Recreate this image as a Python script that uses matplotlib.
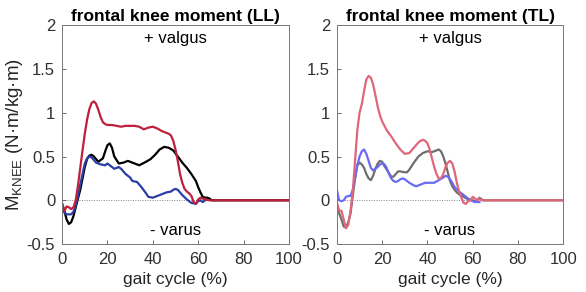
import matplotlib.pyplot as plt
import numpy as np

plt.rcParams["font.family"] = ["Liberation Sans", "DejaVu Sans"]
plt.rcParams["mathtext.default"] = "regular"

# gait cycle (%) / frontal knee moment readings, LL panel
ll_black_x = [0, 1, 2, 3, 4, 5, 6, 7, 8, 9, 10, 11, 12, 13, 14, 16, 18, 19, 20, 21, 22,
              23, 25, 27, 29, 31, 34, 37, 39, 41, 43, 45, 47, 49, 51, 53, 55, 57, 59,
              60, 61, 62, 63, 64, 65, 66, 100]
ll_black_y = [-0.05, -0.12, -0.22, -0.27, -0.25, -0.18, -0.08, 0.02, 0.12, 0.25, 0.38, 0.47,
              0.51, 0.52, 0.5, 0.44, 0.48, 0.56, 0.63, 0.65, 0.6, 0.5, 0.42, 0.43, 0.45,
              0.43, 0.4, 0.44, 0.47, 0.52, 0.58, 0.61, 0.6, 0.57, 0.5, 0.43, 0.37, 0.3,
              0.22, 0.15, 0.09, 0.04, 0.03, 0.03, 0.02, 0.0, 0.0]
ll_red_x = [0, 1, 2, 3, 4, 5, 6, 7, 8, 9, 10, 11, 12, 13, 14, 15, 16, 17, 18, 19, 20, 22,
            24, 26, 28, 30, 32, 34, 36, 38, 40, 42, 44, 46, 47, 48, 49, 50, 51, 52, 53, 54,
            55, 56, 57, 58, 59, 60, 61, 62, 63, 65, 100]
ll_red_y = [-0.03, -0.12, -0.07, -0.08, -0.1, -0.08, 0.0, 0.17, 0.37, 0.57, 0.76, 0.92, 1.04,
            1.11, 1.13, 1.1, 1.03, 0.95, 0.89, 0.87, 0.86, 0.86, 0.85, 0.84, 0.85, 0.85,
            0.85, 0.84, 0.81, 0.83, 0.84, 0.82, 0.79, 0.77, 0.76, 0.74, 0.68, 0.58, 0.45,
            0.3, 0.2, 0.13, 0.1, 0.08, 0.05, -0.02, -0.04, 0.01, 0.03, 0.02, 0.01, 0.0, 0.0]
ll_blue_x = [0, 1, 2, 3, 4, 5, 6, 7, 8, 9, 10, 11, 12, 13, 14, 15, 17, 19, 20, 21, 23, 25,
             26, 28, 30, 31, 33, 35, 37, 38, 40, 42, 44, 46, 48, 49, 50, 51, 53, 55, 57,
             59, 60, 61, 62, 63]
ll_blue_y = [-0.1, -0.14, -0.16, -0.16, -0.16, -0.13, -0.06, 0.05, 0.18, 0.3, 0.42, 0.48,
             0.5, 0.49, 0.46, 0.43, 0.41, 0.4, 0.42, 0.4, 0.36, 0.38, 0.36, 0.3, 0.26, 0.22,
             0.21, 0.15, 0.08, 0.04, 0.03, 0.05, 0.07, 0.09, 0.1, 0.12, 0.13, 0.12, 0.06,
             0.01, -0.03, -0.04, -0.01, 0.0, -0.02, 0.0]

# TL panel
tl_gray_x = [0, 1, 2, 3, 4, 5, 6, 7, 8, 9, 10, 11, 12, 13, 14, 15, 16, 17, 18, 19, 20, 21,
             22, 23, 24, 25, 26, 27, 28, 30, 31, 32, 33, 34, 36, 38, 39, 40, 42, 44, 45,
             46, 47, 48, 49, 50, 51, 52, 53, 54, 56, 58, 60, 61, 62, 63, 64, 65, 100]
tl_gray_y = [-0.05, -0.15, -0.22, -0.3, -0.31, -0.25, -0.15, 0.05, 0.25, 0.4, 0.43, 0.41,
             0.37, 0.3, 0.25, 0.23, 0.28, 0.36, 0.42, 0.45, 0.44, 0.39, 0.35, 0.31, 0.27,
             0.27, 0.3, 0.33, 0.33, 0.32, 0.32, 0.35, 0.39, 0.43, 0.5, 0.54, 0.55, 0.56,
             0.55, 0.57, 0.58, 0.56, 0.5, 0.42, 0.32, 0.22, 0.16, 0.12, 0.09, 0.07, 0.04,
             0.01, 0.0, -0.01, 0.0, 0.03, 0.01, 0.0, 0.0]
tl_red_x = [0, 1, 2, 3, 4, 5, 6, 7, 8, 9, 10, 11, 12, 13, 14, 15, 16, 17, 18, 19, 20, 22,
            24, 26, 28, 30, 32, 34, 36, 37, 38, 39, 40, 41, 42, 43, 44, 45, 46, 47, 48,
            49, 50, 51, 52, 53, 54, 55, 56, 57, 58, 59, 60, 61, 62, 63, 64, 100]
tl_red_y = [-0.03, -0.12, -0.12, -0.22, -0.32, -0.28, -0.12, 0.1, 0.45, 0.8, 1.0, 1.1,
            1.25, 1.38, 1.42, 1.4, 1.32, 1.2, 1.07, 0.97, 0.9, 0.8, 0.73, 0.65, 0.58, 0.53,
            0.54, 0.6, 0.66, 0.68, 0.69, 0.68, 0.65, 0.58, 0.48, 0.38, 0.3, 0.25, 0.25,
            0.3, 0.38, 0.43, 0.45, 0.42, 0.33, 0.2, 0.1, 0.03, -0.03, -0.04, -0.01, 0.0,
            0.04, 0.02, 0.0, 0.02, 0.0, 0.0]
tl_blue_x = [0, 0.5, 1, 2, 3, 4, 5, 6, 7, 8, 9, 10, 11, 12, 13, 14, 15, 16, 17, 18, 19, 20,
             21, 22, 23, 24, 25, 26, 27, 28, 29, 30, 32, 34, 35, 37, 39, 41, 43, 45, 47,
             48, 49, 50, 51, 52, 54, 56, 58, 60, 61, 62, 63]
tl_blue_y = [0.12, 0.05, 0.0, -0.01, 0.0, 0.04, 0.05, 0.05, 0.12, 0.25, 0.4, 0.5, 0.56,
             0.58, 0.53, 0.45, 0.37, 0.34, 0.36, 0.38, 0.41, 0.42, 0.41, 0.37, 0.3, 0.25,
             0.22, 0.21, 0.22, 0.24, 0.25, 0.24, 0.2, 0.17, 0.16, 0.18, 0.2, 0.2, 0.2,
             0.23, 0.26, 0.28, 0.27, 0.24, 0.2, 0.15, 0.1, 0.06, 0.02, -0.01, -0.02, -0.02,
             -0.02]

xticks = [0, 20, 40, 60, 80, 100]
yticks = [-0.5, 0, 0.5, 1, 1.5, 2]
yticklabels = ["-0.5", "0", "0.5", "1", "1.5", "2"]

fig = plt.figure(figsize=(5.86, 2.92), dpi=100)
ax1 = fig.add_axes([0.106, 0.164, 0.387, 0.75])
ax2 = fig.add_axes([0.575, 0.164, 0.386, 0.75])

panels = [
    (ax1, "frontal knee moment (LL)",
     [(ll_black_x, ll_black_y, "#000000"),
      (ll_blue_x, ll_blue_y, "#2b3ea6"),
      (ll_red_x, ll_red_y, "#c01f3c")]),
    (ax2, "frontal knee moment (TL)",
     [(tl_gray_x, tl_gray_y, "#6e6e6e"),
      (tl_blue_x, tl_blue_y, "#6a6af2"),
      (tl_red_x, tl_red_y, "#e0667a")]),
]

for ax, title, series in panels:
    ax.axhline(0, color="#888888", lw=0.7, ls=(0, (1, 1.5)), zorder=1)
    for x, y, c in series:
        ax.plot(x, y, color=c, lw=1.6, zorder=2)
    ax.set_xlim(0, 100)
    ax.set_ylim(-0.5, 2)
    ax.set_xticks(xticks)
    ax.set_yticks(yticks)
    ax.set_yticklabels(yticklabels)
    ax.tick_params(direction="in", length=3, width=0.6, color="#555555",
                   labelsize=12, labelcolor="#303030", top=False, right=False)
    ax.tick_params(axis="x", pad=6)
    ax.tick_params(axis="y", pad=5)
    for s in ax.spines.values():
        s.set_color("#777777")
        s.set_linewidth(0.7)
    ax.set_title(title, fontsize=12.5, fontweight="bold", pad=3)
    ax.set_xlabel("gait cycle (%)", fontsize=12.5, color="#262626", labelpad=3)
    ax.text(50, 1.85, "+ valgus", ha="center", va="center", fontsize=12)
    ax.text(50, -0.35, "- varus", ha="center", va="center", fontsize=12)

ax1.set_ylabel("M$_{KNEE}$ (N\u00b7m/kg\u00b7m)", fontsize=13.5, color="#262626", labelpad=1)

fig.savefig("out.png", dpi=100)
